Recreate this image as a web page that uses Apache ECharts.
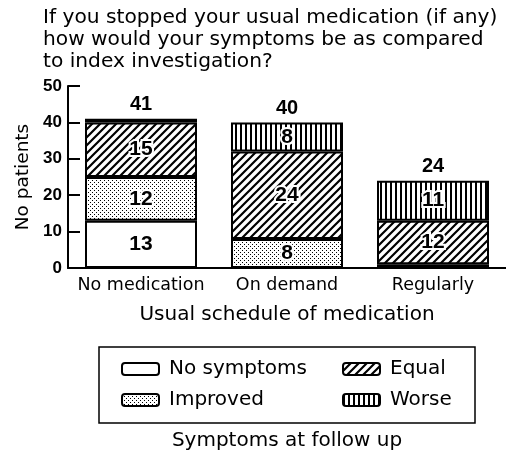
<!DOCTYPE html>
<html>
<head>
<meta charset="utf-8">
<script src="https://cdn.jsdelivr.net/npm/echarts@6/dist/echarts.min.js"></script>
<style>
html, body { margin: 0; padding: 0; background: #fff; }
#main { width: 506px; height: 456px; }
</style>
</head>
<body>
<div id="main"></div>
<script>
var categories = ['No medication', 'On demand', 'Regularly'];
var noSymptoms = [13, 0, 0];
var improved = [12, 8, 1];
var equal = [15, 24, 12];
var worse = [1, 8, 11];
var yTicks = [0, 10, 20, 30, 40, 50];

var totals = [];
for (var i = 0; i < categories.length; i++) {
    totals.push(noSymptoms[i] + improved[i] + equal[i] + worse[i]);
}

// hatch fills, drawn on small canvases and tiled
function makePattern(kind) {
    var c = document.createElement('canvas');
    var ctx = c.getContext('2d');
    if (kind === 'dots') {
        c.width = 4; c.height = 4;
        ctx.fillStyle = '#fff';
        ctx.fillRect(0, 0, 4, 4);
        ctx.fillStyle = '#000';
        ctx.fillRect(0, 0, 1, 1);
        ctx.fillRect(2, 2, 1, 1);
    } else if (kind === 'diag') {
        c.width = 8; c.height = 8;
        ctx.fillStyle = '#fff';
        ctx.fillRect(0, 0, 8, 8);
        ctx.strokeStyle = '#000';
        ctx.lineWidth = 2.2;
        ctx.beginPath();
        ctx.moveTo(-1, 9); ctx.lineTo(9, -1);
        ctx.moveTo(-5, 5); ctx.lineTo(5, -5);
        ctx.moveTo(3, 13); ctx.lineTo(13, 3);
        ctx.stroke();
    } else {
        c.width = 5; c.height = 2;
        ctx.fillStyle = '#fff';
        ctx.fillRect(0, 0, 5, 2);
        ctx.fillStyle = '#000';
        ctx.fillRect(0, 0, 2, 2);
    }
    return { image: c, repeat: 'repeat' };
}

var font = 'DejaVu Sans';
var numFont = 'Liberation Sans';
var segLabel = {
    show: true,
    position: 'inside',
    fontFamily: numFont,
    fontWeight: 'bold',
    fontSize: 21,
    color: '#000',
    textBorderColor: '#fff',
    textBorderWidth: 4,
    formatter: function (p) { return p.value >= 3 ? p.value : ''; }
};

function barSeries(name, data, fill) {
    return {
        name: name,
        type: 'bar',
        stack: 'all',
        barWidth: 112,
        data: data,
        itemStyle: { color: fill, borderColor: '#000', borderWidth: 2 },
        label: segLabel
    };
}

var legendText = { fontFamily: font, fontSize: 20, color: '#000', padding: [0, 0, 0, 5] };

var chart = echarts.init(document.getElementById('main'));
chart.setOption({
    backgroundColor: '#fff',
    animation: false,
    textStyle: { fontFamily: font },
    title: {
        text: 'If you stopped your usual medication (if any)\nhow would your symptoms be as compared\nto index investigation?',
        left: 38,
        top: 2,
        textStyle: { fontFamily: font, fontSize: 20.2, fontWeight: 'normal', color: '#000', lineHeight: 22 }
    },
    grid: { left: 68, top: 86, width: 444, height: 182 },
    legend: [{
        data: ['No symptoms', 'Improved'],
        orient: 'vertical',
        left: 121, top: 359, padding: 0,
        itemWidth: 37, itemHeight: 12, itemGap: 11,
        textStyle: legendText
    }, {
        data: ['Equal', 'Worse'],
        orient: 'vertical',
        left: 342, top: 359, padding: 0,
        itemWidth: 37, itemHeight: 12, itemGap: 11,
        textStyle: legendText
    }],
    graphic: [{
        type: 'rect',
        shape: { x: 99, y: 347, width: 376, height: 76 },
        style: { fill: 'none', stroke: '#000', lineWidth: 1.5 }
    }, {
        type: 'text',
        x: 287, y: 441,
        style: { text: 'Symptoms at follow up', font: '20px "DejaVu Sans"', fill: '#000', textAlign: 'center', textVerticalAlign: 'middle' }
    }],
    xAxis: {
        type: 'category',
        data: categories,
        name: 'Usual schedule of medication',
        nameLocation: 'middle',
        nameGap: 37,
        nameTextStyle: { fontFamily: font, fontSize: 20, color: '#000' },
        axisLine: { lineStyle: { color: '#000', width: 2 } },
        axisTick: { show: false },
        axisLabel: { interval: 0, fontFamily: font, fontSize: 17.5, color: '#000', margin: 8 }
    },
    yAxis: {
        type: 'value',
        min: yTicks[0],
        max: yTicks[yTicks.length - 1],
        interval: yTicks[1] - yTicks[0],
        name: 'No patients',
        nameLocation: 'middle',
        nameRotate: 90,
        nameGap: 35,
        nameTextStyle: { fontFamily: font, fontSize: 18.5, color: '#000' },
        axisLine: { show: true, lineStyle: { color: '#000', width: 2 } },
        axisTick: { show: true, inside: true, length: 12, lineStyle: { color: '#000', width: 2 } },
        axisLabel: { fontFamily: numFont, fontWeight: 'bold', fontSize: 17, color: '#000', margin: 6 },
        splitLine: { show: false }
    },
    series: [
        barSeries('No symptoms', noSymptoms, '#fff'),
        barSeries('Improved', improved, makePattern('dots')),
        barSeries('Equal', equal, makePattern('diag')),
        barSeries('Worse', worse, makePattern('vert')),
        {
            type: 'scatter',
            data: totals,
            symbolSize: 0,
            silent: true,
            itemStyle: { opacity: 1 },
            label: {
                show: true, position: 'top', distance: 4,
                fontFamily: numFont, fontWeight: 'bold', fontSize: 20, color: '#000',
                formatter: '{c}'
            }
        }
    ]
});
</script>
</body>
</html>
